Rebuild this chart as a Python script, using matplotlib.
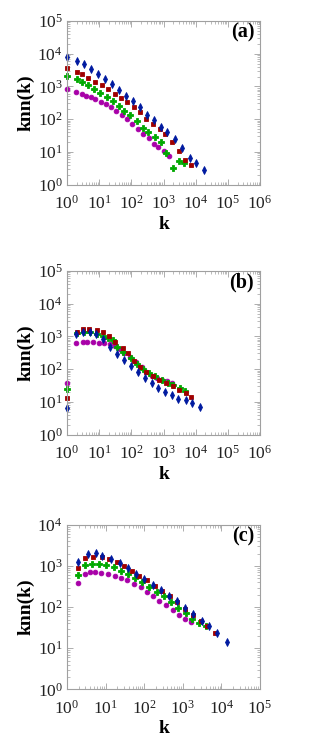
import matplotlib
matplotlib.use("Agg")
import matplotlib.pyplot as plt
from matplotlib.ticker import LogLocator, NullFormatter

plt.rcParams['font.family'] = ['Liberation Serif', 'DejaVu Serif']
plt.rcParams['mathtext.fontset'] = 'custom'
plt.rcParams['mathtext.rm'] = 'Liberation Serif'
plt.rcParams['mathtext.it'] = 'Liberation Serif:italic'
plt.rcParams['mathtext.bf'] = 'Liberation Serif:bold'

# ---- panel (a) ----
a_blue_k = [1, 2, 3.3, 5.6, 9.5, 15.5, 25, 42, 69, 112, 186, 309, 513, 851, 1300, 2240, 3630, 6600, 10200, 17800]
a_blue_knn = [7940, 6170, 4790, 3470, 2400, 1700, 1150, 776, 513, 347, 229, 135, 91, 58, 39, 24.5, 13.5, 6.6, 4.6, 2.7]
a_red_k = [1, 2, 3, 4.6, 7.6, 12, 19, 30, 48, 74, 117, 182, 282, 468, 760, 1100, 1780, 3020, 4680, 7410]
a_red_knn = [3720, 2820, 2400, 1860, 1410, 1100, 813, 589, 437, 324, 234, 170, 102, 72, 49, 35.5, 19.5, 10.7, 5.6, 3.9]
a_green_k = [1, 2, 3, 4.6, 7.1, 11, 17, 26, 41, 60, 93, 145, 224, 339, 537, 832, 1200, 2000, 2950, 4370]
a_green_knn = [2140, 1660, 1380, 1100, 851, 631, 479, 355, 257, 182, 129, 85, 55, 40, 28, 19.5, 9.5, 3.3, 5.1, 4.5]
a_purple_k = [1, 1.95, 2.95, 3.9, 5.4, 7.6, 11.2, 16.2, 24, 34, 51, 74, 107, 158, 229, 347, 490, 676, 1023, 1514]
a_purple_knn = [851, 692, 589, 525, 468, 398, 339, 288, 229, 182, 135, 98, 72, 50, 36, 26, 17, 14, 10.5, 7.6]

# ---- panel (b) ----
b_blue_k = [1, 1.95, 3.2, 5.1, 8.1, 13.5, 22, 36, 60, 98, 158, 263, 427, 692, 1096, 1820, 2880, 4900, 7940, 13490]
b_blue_knn = [6.6, 1150, 1350, 1350, 1150, 813, 490, 288, 186, 123, 81, 52, 37, 26, 20, 16, 12.3, 11, 9.1, 7.1]
b_red_k = [1, 2, 3.2, 4.9, 8.3, 13.5, 20, 31, 54, 79, 120, 186, 295, 457, 741, 1175, 1905, 3090, 4900, 7410]
b_red_knn = [13.5, 1380, 1660, 1660, 1580, 1380, 1020, 692, 437, 302, 178, 117, 79, 62, 47, 37, 30, 23, 19, 14.5]
b_green_k = [1, 2, 3.4, 5.2, 8.3, 12.9, 18.6, 26, 36, 56, 95, 145, 234, 363, 537, 871, 1413, 1995, 3236, 4571]
b_green_knn = [24, 1290, 1380, 1320, 1150, 1000, 890, 760, 479, 331, 219, 148, 102, 76, 60, 46, 38, 32, 26, 22]
b_purple_k = [1, 1.9, 3.1, 4.3, 6.6, 10, 14, 22, 31, 45, 59, 91, 135, 209, 295, 427, 617, 871, 1259, 1862]
b_purple_knn = [37, 617, 692, 692, 692, 646, 617, 575, 513, 407, 302, 229, 162, 112, 79, 62, 52, 47, 42, 38]

# ---- panel (c) ----
c_blue_k = [1.9, 3.5, 5.5, 8.3, 13.8, 23, 37, 60, 98, 166, 275, 437, 692, 1148, 1862, 3236, 4898, 7762, 14125]
c_blue_knn = [1230, 2000, 2090, 1780, 1480, 1170, 890, 646, 479, 347, 263, 191, 138, 95, 68, 47, 34, 23.4, 14.5]
c_red_k = [1.9, 3, 4.8, 7.9, 12.3, 19.5, 30, 48, 74, 115, 191, 295, 468, 724, 1148, 1820, 2951, 4266, 6761]
c_red_knn = [891, 1550, 1700, 1660, 1480, 1230, 977, 776, 589, 447, 331, 251, 182, 132, 91, 65, 45, 34, 23.4]
c_green_k = [1.9, 3, 4.5, 6.9, 10.5, 16.2, 24.5, 37, 59, 89, 132, 209, 324, 490, 759, 1202, 1778, 2692, 3981]
c_green_knn = [617, 1070, 1150, 1150, 1050, 955, 776, 631, 525, 407, 309, 234, 182, 132, 98, 71, 51, 41, 35.5]
c_purple_k = [1.9, 3, 4, 5.4, 7.8, 11.7, 17.4, 25.7, 36, 55, 81, 115, 174, 245, 363, 550, 813, 1148, 1585]
c_purple_knn = [389, 646, 708, 708, 692, 646, 575, 513, 447, 372, 302, 234, 182, 138, 110, 85, 65, 52, 44]

panel_labels = ['(a)', '(b)', '(c)']

# figure layout (pixels -> fractions)
W, H = 312, 755
fig = plt.figure(figsize=(W / 100, H / 100), dpi=100)
boxes = [
    (67, 21, 260, 184.5),
    (67, 271, 260, 434.5),
    (67, 525, 260, 689.3),
]
limits = [((1, 1e6), (1, 1e5)), ((1, 1e6), (1, 1e5)), ((1, 1e5), (1, 1e4))]

series = [
    [(a_purple_k, a_purple_knn), (a_green_k, a_green_knn), (a_red_k, a_red_knn), (a_blue_k, a_blue_knn)],
    [(b_purple_k, b_purple_knn), (b_green_k, b_green_knn), (b_red_k, b_red_knn), (b_blue_k, b_blue_knn)],
    [(c_purple_k, c_purple_knn), (c_green_k, c_green_knn), (c_red_k, c_red_knn), (c_blue_k, c_blue_knn)],
]
styles = [
    dict(marker='o', color='#a800a8', ms=3.4),
    dict(marker='P', color='#00a800', ms=3.8),
    dict(marker='s', color='#a00000', ms=2.9),
    dict(marker='d', color='#001aa0', ms=4.2),
]

frame = '#a0a0a0'
for i in range(3):
    x0, y0, x1, y1 = boxes[i]
    ax = fig.add_axes([x0 / W, 1 - y1 / H, (x1 - x0) / W, (y1 - y0) / H])
    for (k, knn), st in zip(series[i], styles):
        ax.plot(k, knn, linestyle='none', marker=st['marker'], color=st['color'],
                markersize=st['ms'], markeredgewidth=0.6, clip_on=False)
    ax.set_xscale('log')
    ax.set_yscale('log')
    ax.set_xlim(*limits[i][0])
    ax.set_ylim(*limits[i][1])

    for axis in (ax.xaxis, ax.yaxis):
        axis.set_major_locator(LogLocator(base=10, numticks=20))
        axis.set_minor_locator(LogLocator(base=10, subs=range(2, 10), numticks=20))
        axis.set_minor_formatter(NullFormatter())

    ax.tick_params(which='both', direction='in', top=True, right=True, color=frame,
                   labelsize=12.5, labelcolor='#222222')
    ax.tick_params(which='major', length=4, width=0.6)
    ax.tick_params(which='minor', length=2, width=0.5)
    ax.tick_params(axis='x', pad=7.5)
    ax.tick_params(axis='y', pad=3)
    for s in ax.spines.values():
        s.set_color(frame)
        s.set_linewidth(0.8)

    ax.set_ylabel('knn(k)', fontsize=14, fontweight='bold', labelpad=2)
    ax.set_xlabel('k', fontsize=14, fontweight='bold', labelpad=2)
    ax.text(0.97, 0.93, panel_labels[i], transform=ax.transAxes, ha='right', va='center',
            fontsize=14.5, fontweight='bold')

fig.savefig('out.png', dpi=100)
